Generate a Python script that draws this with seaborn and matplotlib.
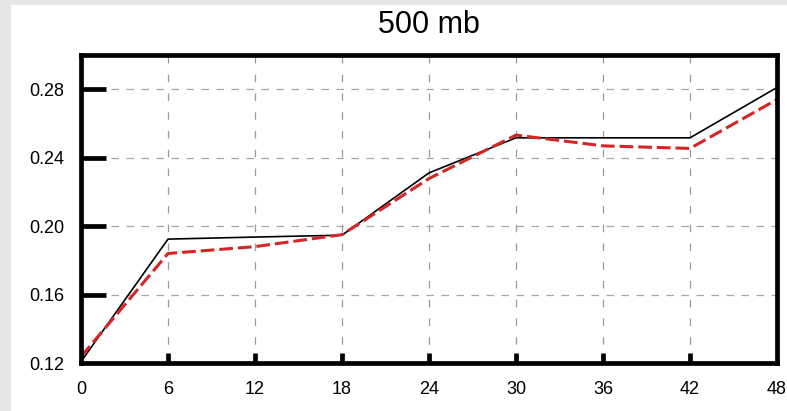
import matplotlib
matplotlib.use("Agg")
import matplotlib.pyplot as plt
import matplotlib.patches as mpatches
import seaborn as sns
import pandas as pd

hours = [0, 6, 12, 18, 24, 30, 36, 42, 48]
black_series = [0.1208, 0.1924, 0.1936, 0.1947, 0.2311, 0.2516, 0.2516, 0.2516, 0.2810]
red_series = [0.1237, 0.1840, 0.1880, 0.1950, 0.2278, 0.2532, 0.2469, 0.2454, 0.2740]
x_ticks = [0, 6, 12, 18, 24, 30, 36, 42, 48]
y_ticks = [0.12, 0.16, 0.20, 0.24, 0.28]
title = "500 mb"

sns.set_theme(style="white")
plt.rcParams['font.family'] = ['Liberation Sans', 'DejaVu Sans']

df = pd.DataFrame({
    "hour": hours * 2,
    "value": black_series + red_series,
    "series": ["black"] * len(hours) + ["red"] * len(hours),
})

fig = plt.figure(figsize=(7.87, 4.11), dpi=100, facecolor="#e6e6e6")
bg = mpatches.Rectangle((11 / 787, 0), 1, 1 - 5 / 411,
                        transform=fig.transFigure, facecolor="white",
                        edgecolor="none", zorder=-10)
fig.patches.append(bg)
ax = fig.add_axes([81 / 787, 1 - 363 / 411, (777 - 81) / 787, (363 - 55) / 411])
ax.set_zorder(5)
ax.set_facecolor("white")

sns.lineplot(data=df[df.series == "black"], x="hour", y="value", ax=ax,
             color="black", linewidth=1.2, zorder=3, legend=False)
sns.lineplot(data=df[df.series == "red"], x="hour", y="value", ax=ax,
             color="#d42626", linewidth=2.2, zorder=4, legend=False)
ax.lines[1].set_dashes([4.5, 1.6])

ax.set_xlim(0, 48)
ax.set_ylim(0.12, 0.30)
ax.set_xticks(x_ticks)
ax.set_yticks(y_ticks)
ax.set_xticklabels([str(t) for t in x_ticks])
ax.set_yticklabels([f"{t:.2f}" for t in y_ticks])
ax.set_xlabel("")
ax.set_ylabel("")

for x in x_ticks[1:-1]:
    ax.axvline(x, color="#999999", linewidth=0.9, dashes=(6, 9), zorder=1)
for y in y_ticks[1:]:
    ax.axhline(y, color="#a6a6a6", linewidth=0.9, dashes=(6, 6), zorder=1)

# thick inward tick marks
ax.vlines(x_ticks[1:-1], 0, 10 / 308, transform=ax.get_xaxis_transform(),
          color="black", linewidth=3.4, capstyle="butt", zorder=6, clip_on=False)
ax.hlines(y_ticks[1:], 0, 25 / 696, transform=ax.get_yaxis_transform(),
          color="black", linewidth=3.4, capstyle="butt", zorder=6, clip_on=False)

for s in ax.spines.values():
    s.set_linewidth(3.4)
    s.set_color("black")
    s.set_visible(True)
    s.set_zorder(7)

ax.tick_params(axis="x", length=0, pad=13, labelsize=13, labelcolor="black",
               bottom=True, top=False)
ax.tick_params(axis="y", length=0, pad=12, labelsize=13, labelcolor="black",
               left=True, right=False)

ax.set_title(title, fontsize=22, pad=16, color="black")

fig.savefig("out.png", dpi=100, facecolor=fig.get_facecolor())
